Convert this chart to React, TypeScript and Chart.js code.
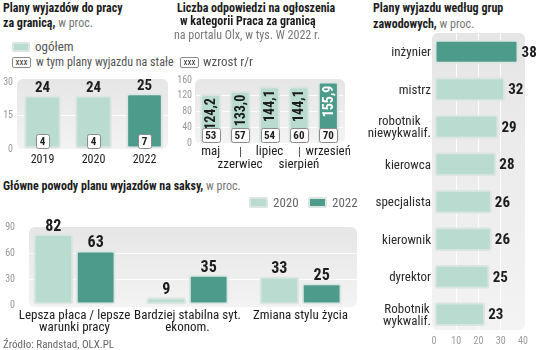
import React, { useEffect, useRef } from 'react';
import { Chart, registerables } from 'chart.js';
Chart.register(...registerables);

const FONT = "'Liberation Sans Narrow', 'Roboto Condensed', 'DejaVu Sans Condensed', Roboto, sans-serif";
const LIGHT = '#b9dbd0';
const DARK = '#4c9b8b';
const BORDER = '#dbe5e1';
const TXT = '#1c1c1c';

// Panel 1
const yearCategories = ['2019', '2020', '2022'];
const yearTotal = [24, 24, 25];
const yearPermanent = [4, 4, 7];
const yearTicks = [0, 15, 30];

// Panel 2
const monthLabels = ['maj', 'zzerwiec', 'lipiec', 'sierpień', 'wrzesień'];
const monthResponses = [124.2, 133.0, 144.1, 144.1, 155.9];
const monthGrowth = [53, 57, 54, 60, 70];
const monthTicks = [0, 40, 80, 120, 160];

// Panel 3
const groupLabels = [['inżynier'], ['mistrz'], ['robotnik', 'niewykwalif.'], ['kierowca'], ['specjalista'], ['kierownik'], ['dyrektor'], ['Robotnik', 'wykwalif.']];
const groupValues = [38, 32, 29, 28, 26, 26, 25, 23];
const groupTicks = [0, 10, 20, 30, 40];

// Panel 4
const reasonLabels = [['Lepsza płaca / lepsze', 'warunki pracy'], ['Bardziej stabilna syt.', 'ekonom.'], ['Zmiana stylu życia']];
const reasons2020 = [82, 9, 33];
const reasons2022 = [63, 35, 25];
const reasonTicks = [0, 30, 60, 90];
const reasonSeries = ['2020', '2022'];

Chart.defaults.font.family = FONT;

const panelPlugin = {
  id: 'panel',
  beforeDraw(chart: any, _args: any, opts: any) {
    const { ctx, chartArea: a } = chart;
    const x0 = a.left + (opts.l || 0), x1 = a.right + (opts.r || 0);
    const y0 = a.top + (opts.t || 0), y1 = a.bottom + (opts.b || 0);
    const g = ctx.createLinearGradient(0, y0, 0, y1);
    g.addColorStop(0, '#e6e6e6');
    g.addColorStop(1, '#f3f3f3');
    ctx.save();
    ctx.fillStyle = g;
    ctx.beginPath();
    ctx.roundRect(x0, y0, x1 - x0, y1 - y0, 6);
    ctx.fill();
    ctx.restore();
  },
};

const gridColor = (max: number) => (c: any) =>
  c.tick && (c.tick.value === 0 || c.tick.value === max) ? 'rgba(0,0,0,0)' : 'rgba(255,255,255,0.85)';

function smallBox(ctx: any, cx: number, bottom: number, w: number, h: number, text: string) {
  const bx = Math.round(cx - w / 2) + 0.5;
  const by = Math.round(bottom - h) + 0.5;
  ctx.save();
  ctx.fillStyle = '#fff';
  ctx.strokeStyle = '#8c8c8c';
  ctx.lineWidth = 1;
  ctx.beginPath();
  ctx.roundRect(bx, by, w, h, 2);
  ctx.fill();
  ctx.stroke();
  ctx.fillStyle = TXT;
  ctx.font = `bold 11px ${FONT}`;
  ctx.textAlign = 'center';
  ctx.textBaseline = 'middle';
  ctx.fillText(text, cx, by + h / 2 + 0.5);
  ctx.restore();
}

const fmt = (v: number) => v.toFixed(1).replace('.', ',');

const baseOpts = {
  animation: false,
  responsive: false,
  maintainAspectRatio: false,
};

const noSkip = { autoSkip: false, maxRotation: 0, minRotation: 0 };

function useChart(ref: any, make: () => any) {
  useEffect(() => {
    const chart = new Chart(ref.current, make());
    return () => chart.destroy();
  }, []);
}

export default function App() {
  const c1 = useRef<HTMLCanvasElement>(null);
  const c2 = useRef<HTMLCanvasElement>(null);
  const c3 = useRef<HTMLCanvasElement>(null);
  const c4 = useRef<HTMLCanvasElement>(null);

  useEffect(() => {
    document.body.style.margin = '0';
  }, []);

  useChart(c1, () => ({
    type: 'bar',
    data: {
      labels: yearCategories,
      datasets: [{
        data: yearTotal,
        backgroundColor: [LIGHT, LIGHT, DARK],
        borderColor: BORDER, borderWidth: 2, borderRadius: 3, borderSkipped: false,
        barPercentage: 0.72, categoryPercentage: 1,
      }],
    },
    options: {
      ...baseOpts,
      layout: { padding: { top: 9, right: 5, left: 0, bottom: 0 } },
      plugins: { legend: { display: false }, tooltip: { enabled: false }, panel: { t: -3, r: -2 } },
      scales: {
        y: {
          min: 0, max: 30,
          afterBuildTicks: (s: any) => { s.ticks = yearTicks.map((v) => ({ value: v })); },
          afterFit: (s: any) => { s.width = 17; },
          grid: { drawTicks: false, color: gridColor(30) }, border: { display: false },
          ticks: { ...noSkip, padding: 4, color: '#9a9a9a', font: { size: 10 } },
        },
        x: {
          afterFit: (s: any) => { s.height = 19; },
          grid: { display: false }, border: { display: false },
          ticks: { ...noSkip, padding: -4, color: TXT, font: { size: 12 } },
        },
      },
    },
    plugins: [panelPlugin, {
      id: 'lbl1',
      afterDraw(chart: any) {
        const ctx = chart.ctx;
        chart.getDatasetMeta(0).data.forEach((bar: any, i: number) => {
          const { x, y, base } = bar.getProps(['x', 'y', 'base'], true);
          ctx.save();
          ctx.font = `bold 15px ${FONT}`;
          ctx.fillStyle = TXT;
          ctx.textAlign = 'center';
          ctx.textBaseline = 'alphabetic';
          ctx.fillText(String(yearTotal[i]), x, y - 3);
          ctx.restore();
          smallBox(ctx, x, base - 1, 13, 14, String(yearPermanent[i]));
        });
      },
    }],
  }));

  useChart(c2, () => ({
    type: 'bar',
    data: {
      labels: monthLabels.map((l, i) => (i % 2 === 1 ? ['', l] : [l])),
      datasets: [{
        data: monthResponses,
        backgroundColor: [LIGHT, LIGHT, LIGHT, LIGHT, DARK],
        borderColor: BORDER, borderWidth: 2, borderRadius: 3, borderSkipped: false,
        barPercentage: 0.72, categoryPercentage: 1,
      }],
    },
    options: {
      ...baseOpts,
      layout: { padding: { top: 9, right: 7, left: 0, bottom: 0 } },
      plugins: { legend: { display: false }, tooltip: { enabled: false }, panel: { t: -1, l: -1, r: 2 } },
      scales: {
        y: {
          min: 0, max: 160,
          afterBuildTicks: (s: any) => { s.ticks = monthTicks.map((v) => ({ value: v })); },
          afterFit: (s: any) => { s.width = 26; },
          grid: { drawTicks: false, color: gridColor(160) }, border: { display: false },
          ticks: { ...noSkip, padding: 4, color: '#9a9a9a', font: { size: 10 } },
        },
        x: {
          afterFit: (s: any) => { s.height = 27; },
          grid: { display: false }, border: { display: false },
          ticks: { ...noSkip, padding: -6, color: TXT, font: { size: 13, lineHeight: 1 } },
        },
      },
    },
    plugins: [panelPlugin, {
      id: 'lbl2',
      afterDraw(chart: any) {
        const ctx = chart.ctx;
        const area = chart.chartArea;
        chart.getDatasetMeta(0).data.forEach((bar: any, i: number) => {
          const { x, y, base } = bar.getProps(['x', 'y', 'base'], true);
          ctx.save();
          ctx.translate(x, y + 4);
          ctx.rotate(-Math.PI / 2);
          ctx.font = `bold 14px ${FONT}`;
          ctx.fillStyle = i === monthResponses.length - 1 ? '#ffffff' : TXT;
          ctx.textAlign = 'right';
          ctx.textBaseline = 'middle';
          ctx.fillText(fmt(monthResponses[i]), 0, 1);
          ctx.restore();
          smallBox(ctx, x, base - 1, 18, 14, String(monthGrowth[i]));
          if (i % 2 === 1) {
            ctx.save();
            ctx.strokeStyle = '#555';
            ctx.lineWidth = 1;
            ctx.beginPath();
            ctx.moveTo(Math.round(x) + 0.5, area.bottom + 4);
            ctx.lineTo(Math.round(x) + 0.5, area.bottom + 14);
            ctx.stroke();
            ctx.restore();
          }
        });
      },
    }],
  }));

  useChart(c3, () => ({
    type: 'bar',
    data: {
      labels: groupLabels,
      datasets: [{
        data: groupValues,
        backgroundColor: groupValues.map((_, i) => (i === 0 ? DARK : LIGHT)),
        borderColor: BORDER, borderWidth: 2, borderRadius: 3, borderSkipped: false,
        barPercentage: 0.64, categoryPercentage: 1,
      }],
    },
    options: {
      ...baseOpts,
      indexAxis: 'y',
      layout: { padding: { top: 5, right: 13, left: 74, bottom: 0 } },
      plugins: { legend: { display: false }, tooltip: { enabled: false }, panel: { l: -2, r: 2, b: -3 } },
      scales: {
        x: {
          min: 0, max: 40,
          afterBuildTicks: (s: any) => { s.ticks = groupTicks.map((v) => ({ value: v })); },
          afterFit: (s: any) => { s.height = 17; },
          grid: { drawTicks: false, color: gridColor(40) }, border: { display: false },
          ticks: { ...noSkip, padding: 2, color: '#9a9a9a', font: { size: 10, lineHeight: 1.2 } },
        },
        y: { display: false },
      },
    },
    plugins: [panelPlugin, {
      id: 'lbl3',
      afterDraw(chart: any) {
        const ctx = chart.ctx;
        const area = chart.chartArea;
        const yScale = chart.scales.y;
        ctx.save();
        ctx.font = `13px ${FONT}`;
        ctx.fillStyle = '#2a2a2a';
        ctx.textAlign = 'center';
        ctx.textBaseline = 'middle';
        groupLabels.forEach((lines, i) => {
          const cy = yScale.getPixelForValue(i) + 1;
          const maxW = Math.max(...lines.map((l) => ctx.measureText(l).width));
          const cx = area.left - 3 - maxW / 2;
          const lh = 12;
          const y0 = cy - ((lines.length - 1) * lh) / 2;
          lines.forEach((l, j) => ctx.fillText(l, cx, y0 + j * lh));
        });
        ctx.font = `bold 15px ${FONT}`;
        ctx.fillStyle = TXT;
        ctx.textAlign = 'left';
        chart.getDatasetMeta(0).data.forEach((bar: any, i: number) => {
          const { x, y } = bar.getProps(['x', 'y'], true);
          ctx.fillText(String(groupValues[i]), x + 3, y + 1);
        });
        ctx.restore();
      },
    }],
  }));

  useChart(c4, () => ({
    type: 'bar',
    data: {
      labels: reasonLabels,
      datasets: [
        {
          label: reasonSeries[0], data: reasons2020, backgroundColor: LIGHT,
          borderColor: BORDER, borderWidth: 2, borderRadius: 3, borderSkipped: false,
          barPercentage: 0.94, categoryPercentage: 0.75,
        },
        {
          label: reasonSeries[1], data: reasons2022, backgroundColor: DARK,
          borderColor: BORDER, borderWidth: 2, borderRadius: 3, borderSkipped: false,
          barPercentage: 0.94, categoryPercentage: 0.75,
        },
      ],
    },
    options: {
      ...baseOpts,
      layout: { padding: { top: 12, right: 8, left: 0, bottom: 0 } },
      plugins: { legend: { display: false }, tooltip: { enabled: false }, panel: { l: 11, b: 2 } },
      scales: {
        y: {
          min: 0, max: 90,
          afterBuildTicks: (s: any) => { s.ticks = reasonTicks.map((v) => ({ value: v })); },
          afterFit: (s: any) => { s.width = 18; },
          grid: { drawTicks: false, color: gridColor(90) }, border: { display: false },
          ticks: { ...noSkip, padding: 3, color: '#9a9a9a', font: { size: 10 } },
        },
        x: {
          afterFit: (s: any) => { s.height = 30; },
          grid: { display: false }, border: { display: false },
          ticks: { ...noSkip, padding: -3, color: TXT, font: { size: 13, lineHeight: '12px' } },
        },
      },
    },
    plugins: [panelPlugin, {
      id: 'lbl4',
      afterDraw(chart: any) {
        const ctx = chart.ctx;
        ctx.save();
        ctx.font = `bold 16px ${FONT}`;
        ctx.fillStyle = TXT;
        ctx.textAlign = 'center';
        ctx.textBaseline = 'alphabetic';
        [reasons2020, reasons2022].forEach((vals, d) => {
          chart.getDatasetMeta(d).data.forEach((bar: any, i: number) => {
            const { x, y } = bar.getProps(['x', 'y'], true);
            ctx.fillText(String(vals[i]), x, y - 3);
          });
        });
        ctx.restore();
      },
    }],
  }));

  const abs = (left: number, top: number, extra: any = {}) => ({
    position: 'absolute' as const, left, top, lineHeight: '14px', whiteSpace: 'nowrap' as const, ...extra,
  });
  const bold = { fontWeight: 700, fontSize: 12, color: TXT };
  const light = { fontWeight: 400, fontSize: 12, color: '#777' };
  const legendTxt = { fontSize: 12, color: '#555' };
  const xxxBox = (left: number, top: number) => (
    <div style={{
      position: 'absolute', left, top, width: 17, height: 9, border: '1px solid #8c8c8c', borderRadius: 2,
      background: '#fff', fontSize: 9, lineHeight: '9px', textAlign: 'center', color: '#333',
    }}>xxx</div>
  );
  const swatch = (left: number, top: number, color: string, w = 18, h = 10) => (
    <div style={{
      position: 'absolute', left, top, width: w, height: h, background: color,
      border: `2px solid ${BORDER}`, borderRadius: 2, boxSizing: 'border-box',
    }} />
  );

  return (
    <div style={{ position: 'absolute', left: 0, top: 0, width: 536, height: 350, background: '#fff', fontFamily: FONT, overflow: 'hidden' }}>
      {/* Panel 1 texts */}
      <div style={abs(3, 1, bold)}>Plany wyjazdów do pracy</div>
      <div style={abs(3, 15)}><span style={bold}>za granicą,</span><span style={light}> w proc.</span></div>
      {swatch(12, 42, LIGHT)}
      <div style={abs(35, 40, { ...legendTxt, fontSize: 13 })}>ogółem</div>
      {xxxBox(12, 57)}
      <div style={abs(36, 55, legendTxt)}>w tym plany wyjazdu na stałe</div>
      <canvas ref={c1} width={175} height={96} style={{ position: 'absolute', left: 0, top: 72 }} />

      {/* Panel 2 texts */}
      <div style={abs(177, 1, bold)}>Liczba odpowiedzi na ogłoszenia</div>
      <div style={abs(180, 14, bold)}>w kategorii Praca za granicą</div>
      <div style={abs(174, 28, light)}>na portalu Olx, w tys. W 2022 r.</div>
      {xxxBox(180, 57)}
      <div style={abs(203, 55, { ...legendTxt, fontSize: 13 })}>wzrost r/r</div>
      <canvas ref={c2} width={180} height={100} style={{ position: 'absolute', left: 170, top: 70 }} />

      {/* Panel 3 texts */}
      <div style={abs(373, 1, bold)}>Plany wyjazdu według grup</div>
      <div style={abs(373, 16)}><span style={bold}>zawodowych,</span><span style={light}> w proc.</span></div>
      <canvas ref={c3} width={176} height={322} style={{ position: 'absolute', left: 360, top: 28 }} />

      {/* Panel 4 texts */}
      <div style={abs(3, 178)}><span style={bold}>Główne powody planu wyjazdów na saksy,</span><span style={light}> w proc.</span></div>
      {swatch(249, 197, LIGHT, 19, 11)}
      <div style={abs(273, 196, { ...legendTxt, fontSize: 13, color: '#666' })}>{reasonSeries[0]}</div>
      {swatch(308, 197, DARK, 19, 11)}
      <div style={abs(332, 196, { ...legendTxt, fontSize: 13, color: '#666' })}>{reasonSeries[1]}</div>
      <canvas ref={c4} width={365} height={120} style={{ position: 'absolute', left: 0, top: 215 }} />

      <div style={abs(3, 338, { fontSize: 11, color: '#666' })}>Źródło: Randstad, OLX.PL</div>
    </div>
  );
}
